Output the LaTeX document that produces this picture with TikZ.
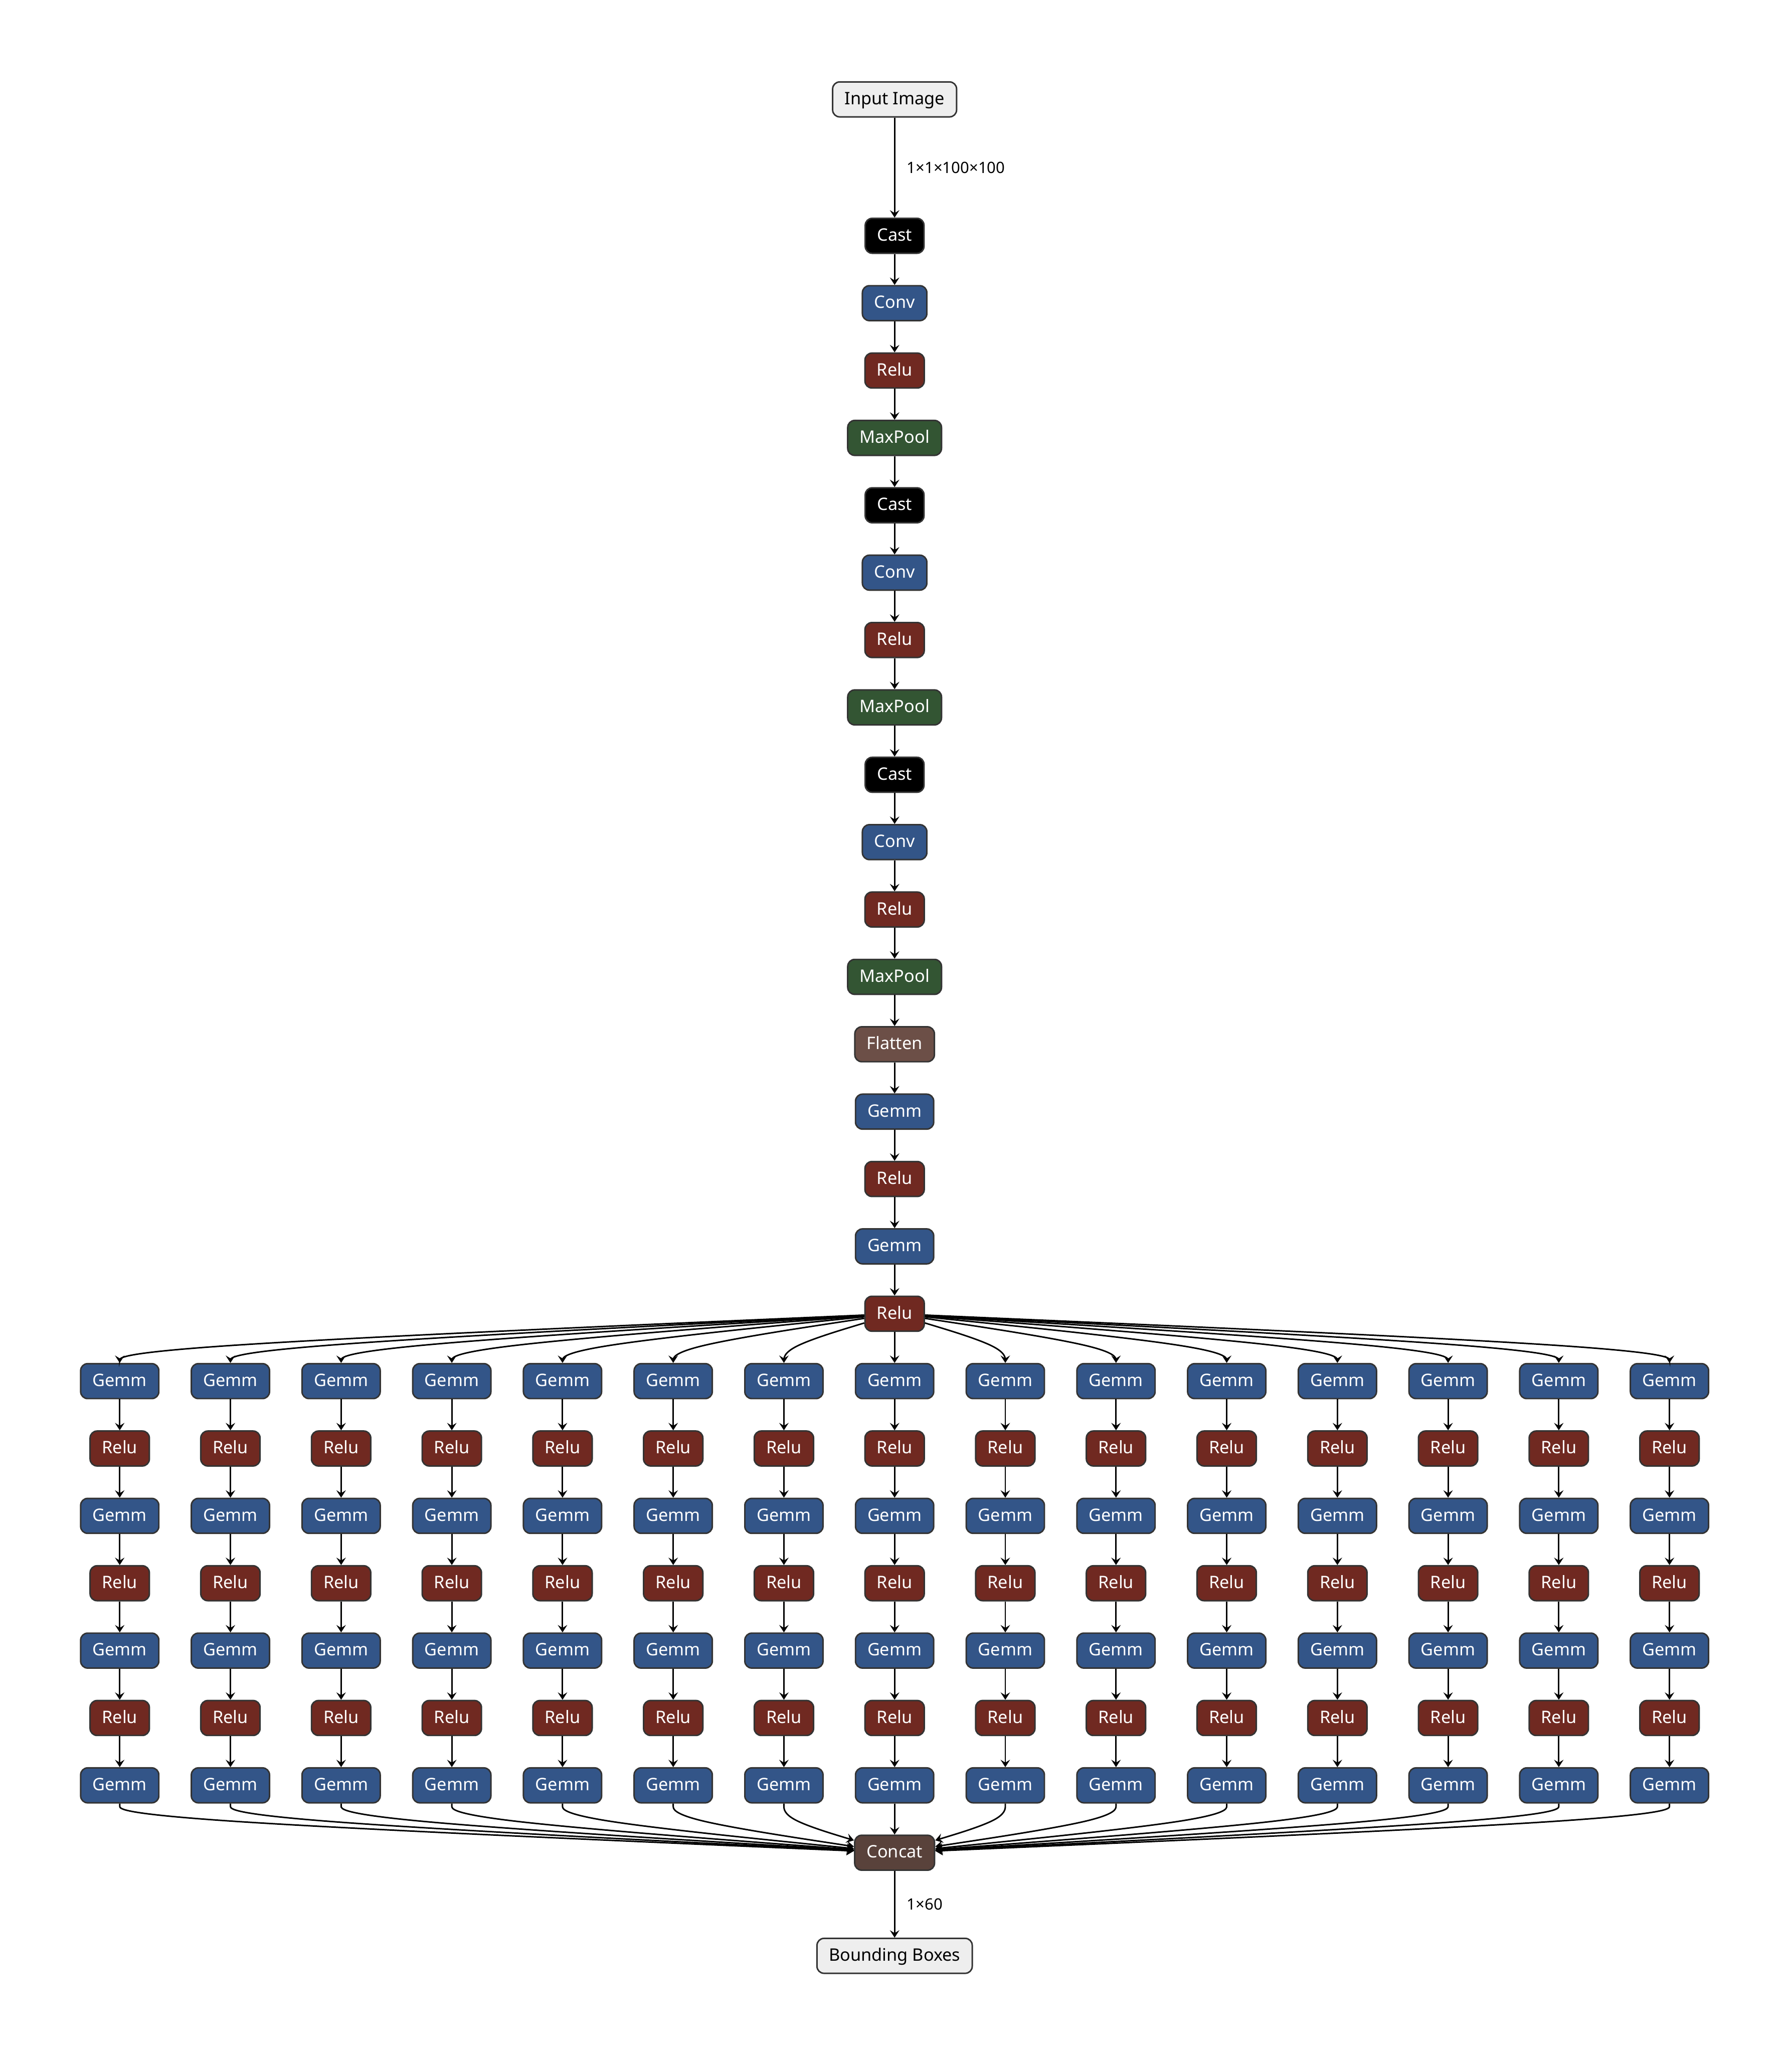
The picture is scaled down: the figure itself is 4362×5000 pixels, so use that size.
\documentclass[tikz,border=0pt]{standalone}
\usepackage{fontspec}
\setmainfont{Noto Sans}
\usepackage{tikz}
\usetikzlibrary{arrows.meta,calc}
\definecolor{boxline}{HTML}{333333}
\definecolor{iofill}{HTML}{EEEEEE}
\definecolor{layerfill}{HTML}{335588}
\definecolor{actfill}{HTML}{702921}
\definecolor{poolfill}{HTML}{335533}
\definecolor{flatfill}{HTML}{6C4F47}
\definecolor{catfill}{HTML}{59423B}
\newcommand{\opfont}{\fontsize{11.9pt}{14pt}\selectfont}
\newcommand{\dimfont}{\fontsize{10.8pt}{13pt}\selectfont}
\tikzset{
  opbox/.style={draw=boxline, line width=0.036cm, rounded corners=0.17cm,
                font=\opfont, text=white, inner xsep=0.29cm, inner ysep=0pt,
                minimum height=0.85cm, text height=0.714em, text depth=0pt},
  iobox/.style={opbox, fill=iofill, text=black},
  castbox/.style={opbox, fill=black},
  layerbox/.style={opbox, fill=layerfill},
  actbox/.style={opbox, fill=actfill},
  poolbox/.style={opbox, fill=poolfill},
  flatbox/.style={opbox, fill=flatfill},
  catbox/.style={opbox, fill=catfill},
  flow/.style={-{Stealth[length=0.18cm, width=0.23cm, inset=0.07cm]}, line width=0.036cm},
  dimlbl/.style={font=\dimfont, anchor=west, inner sep=0pt, xshift=0.28cm},
}
% b-spline edge through start, bend point and end
\newcommand{\bspline}[3]{%
  \draw[flow] (#1) -- ($(#1)!1/6!(#2)$)
    .. controls ($(#1)!1/3!(#2)$) and ($(#1)!2/3!(#2)$)
    .. ($0.166667*(#1)+0.666667*(#2)+0.166667*(#3)$)
    .. controls ($(#2)!1/3!(#3)$) and ($(#2)!2/3!(#3)$)
    .. ($(#2)!5/6!(#3)$) -- (#3);}

\begin{document}
\begin{tikzpicture}[x=0.01cm, y=-0.01cm]
  \useasboundingbox (0,0) rectangle (4362,5000);
  % trunk
  \node[iobox] (in) at (2178,242) {Input Image};
  \foreach \k/\txt/\sty in {0/Cast/castbox, 1/Conv/layerbox, 2/Relu/actbox, 3/MaxPool/poolbox,
      4/Cast/castbox, 5/Conv/layerbox, 6/Relu/actbox, 7/MaxPool/poolbox,
      8/Cast/castbox, 9/Conv/layerbox, 10/Relu/actbox, 11/MaxPool/poolbox,
      12/Flatten/flatbox, 13/Gemm/layerbox, 14/Relu/actbox, 15/Gemm/layerbox, 16/Relu/actbox}
    \node[\sty] (m\k) at (2178,{574+164*\k}) {\txt};
  % fifteen heads
  \foreach \i in {1,...,15}
    \foreach \r/\txt/\sty in {0/Gemm/layerbox, 1/Relu/actbox, 2/Gemm/layerbox, 3/Relu/actbox,
        4/Gemm/layerbox, 5/Relu/actbox, 6/Gemm/layerbox}
      \node[\sty] (b\i-\r) at ({2178+(\i-8)*269.5},{3362+164*\r}) {\txt};
  \node[catbox] (cat) at (2178,4510) {Concat};
  \node[iobox] (out) at (2178,4761) {Bounding Boxes};

  \draw[flow] (in) -- node[dimlbl] {1×1×100×100} (m0);
  \foreach \k in {0,...,15} {
    \pgfmathtruncatemacro\nx{\k+1}
    \draw[flow] (m\k) -- (m\nx);
  }
  \foreach \i in {1,...,15}
    \foreach \r in {0,...,5} {
      \pgfmathtruncatemacro\nx{\r+1}
      \draw[flow] (b\i-\r) -- (b\i-\nx);
    }
  % fan out from the last relu, fan in to concat
  \foreach \i in {1,...,15} {
    \ifnum\i=8
      \draw[flow] (m16) -- (b8-0);
      \draw[flow] (b8-6) -- (cat);
    \else
      \coordinate (up) at ({2178+(\i-8)*269.5},3280);
      \coordinate (dn) at ({2178+(\i-8)*269.5},4428);
      \path (m16) -- (up) coordinate[pos=0] (src);
      \path (dn) -- (cat) coordinate[pos=1] (dst);
      \bspline{src}{up}{b\i-0.north}
      \bspline{b\i-6.south}{dn}{dst}
    \fi
  }
  \draw[flow] (cat) -- node[dimlbl] {1×60} (out);
\end{tikzpicture}
\end{document}
